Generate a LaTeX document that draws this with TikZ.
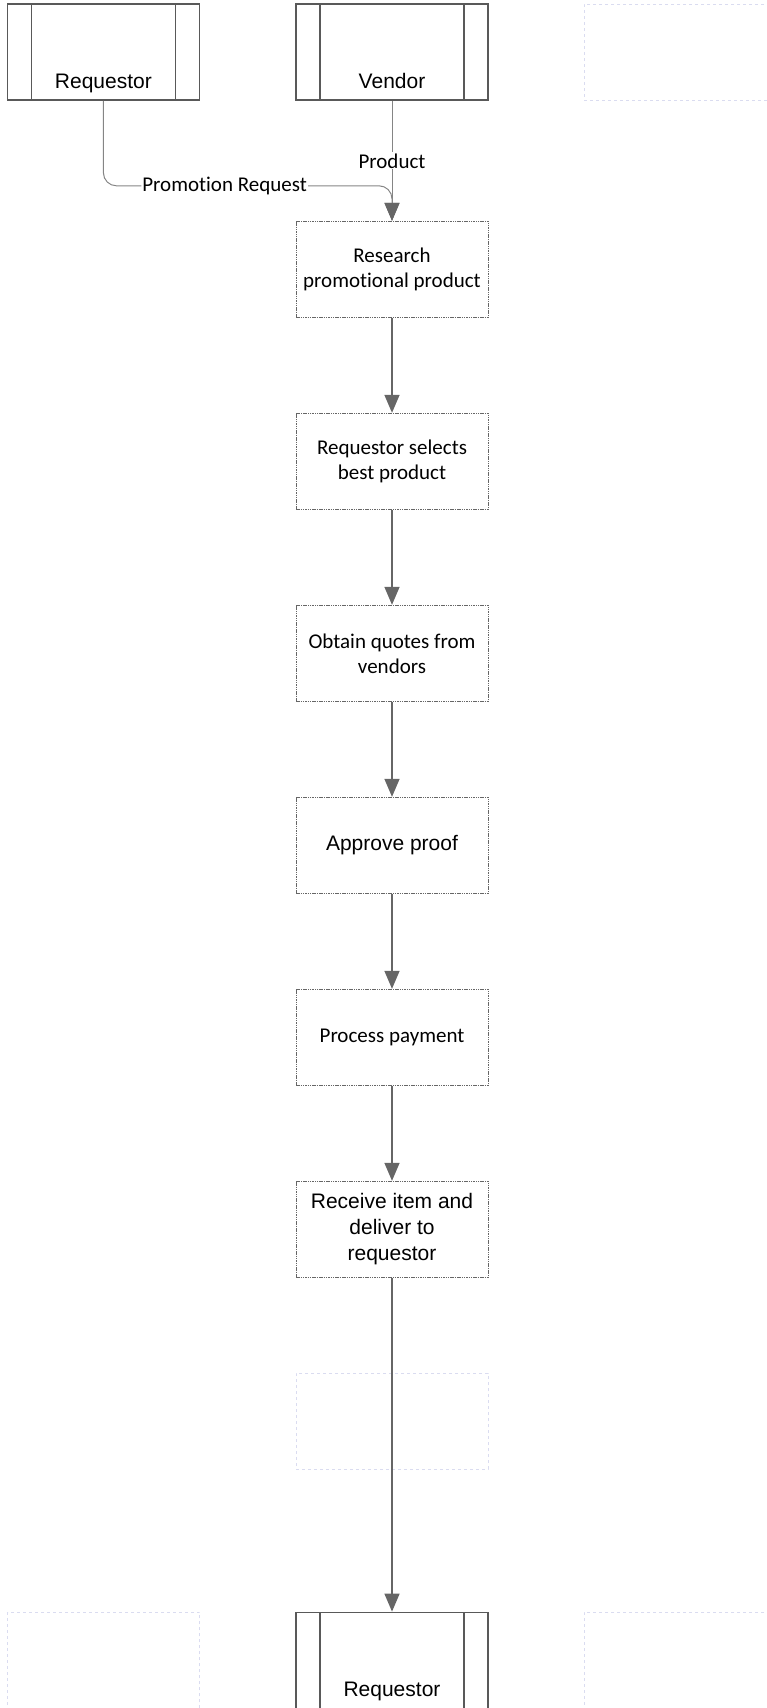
\documentclass[tikz,border=0pt]{standalone}
\usepackage{fontspec}
\setmainfont{Liberation Sans}
\newfontfamily\carlito[Ligatures=NoCommon]{Carlito}
\usetikzlibrary{arrows.meta, positioning}
\definecolor{edgegray}{HTML}{595959}
\definecolor{flowgray}{HTML}{666666}
\definecolor{ghostline}{HTML}{DADCF0}

\begin{document}
\begin{tikzpicture}[x=1pt, y=1pt, node distance=95pt and 95pt,
    entity/.style={rectangle, draw=edgegray, line width=1.6pt, minimum width=192pt, minimum height=96pt, inner sep=0pt, text height=84pt, text depth=12pt, font=\fontsize{21}{25}\selectfont,
        path picture={\draw[edgegray, line width=1.6pt]
            ([xshift=24pt]path picture bounding box.north west) -- ([xshift=24pt]path picture bounding box.south west)
            ([xshift=-24pt]path picture bounding box.north east) -- ([xshift=-24pt]path picture bounding box.south east);}},
    process/.style={rectangle, draw=black!60, dash pattern=on 1.5pt off 0.8pt, line width=1pt, minimum width=192pt, minimum height=96pt, align=center, font=\carlito\fontsize{21}{25}\selectfont},
    procsans/.style={process, font=\fontsize{21}{26}\selectfont},
    ghost/.style={rectangle, draw=ghostline, dashed, line width=0.8pt, minimum width=192pt, minimum height=96pt},
    arrow/.style={draw=flowgray, line width=1.5pt, -{Triangle[length=18pt, width=15pt, color=flowgray]}},
    thinarrow/.style={draw=flowgray!80, line width=1pt, -{Triangle[length=18pt, width=15pt, color=flowgray]}},
    lbl/.style={fill=white, inner sep=1pt, font=\carlito\fontsize{21}{25}\selectfont}
]
\useasboundingbox (0,0) rectangle (767,-1708);

% Nodes
\node[entity] (vendor) at (392,-52) {Vendor};
\node[entity, left=of vendor] (requestor) {Requestor};
\node[ghost, right=of vendor] (ghosttop) {};
\node[process, below=of vendor, yshift=-25pt] (research) {Research\\promotional product};
\node[process, below=of research] (selects) {Requestor selects\\best product};
\node[process, below=of selects] (quotes) {Obtain quotes from\\vendors};
\node[procsans, below=of quotes] (proof) {Approve proof};
\node[process, below=of proof] (payment) {Process payment};
\node[procsans, below=of payment] (receive) {Receive item and\\deliver to\\requestor};
\node[ghost, below=of receive] (ghostmid) {};
\node[entity, below=of ghostmid, yshift=-47pt] (reqend) {Requestor};
\node[ghost, left=of reqend] (ghostleft) {};
\node[ghost, right=of reqend] (ghostright) {};

% Connections
\draw[thinarrow] (vendor) -- node[lbl] {Product} (research);
\draw[thinarrow, rounded corners=13pt] (requestor.south) |- ([yshift=35pt]research.north) node[lbl, pos=0.71] {Promotion Request} -- (research.north);
\draw[arrow] (research) -- (selects);
\draw[arrow] (selects) -- (quotes);
\draw[arrow] (quotes) -- (proof);
\draw[arrow] (proof) -- (payment);
\draw[arrow] (payment) -- (receive);
\draw[arrow] (receive) -- (reqend);

\end{tikzpicture}
\end{document}
